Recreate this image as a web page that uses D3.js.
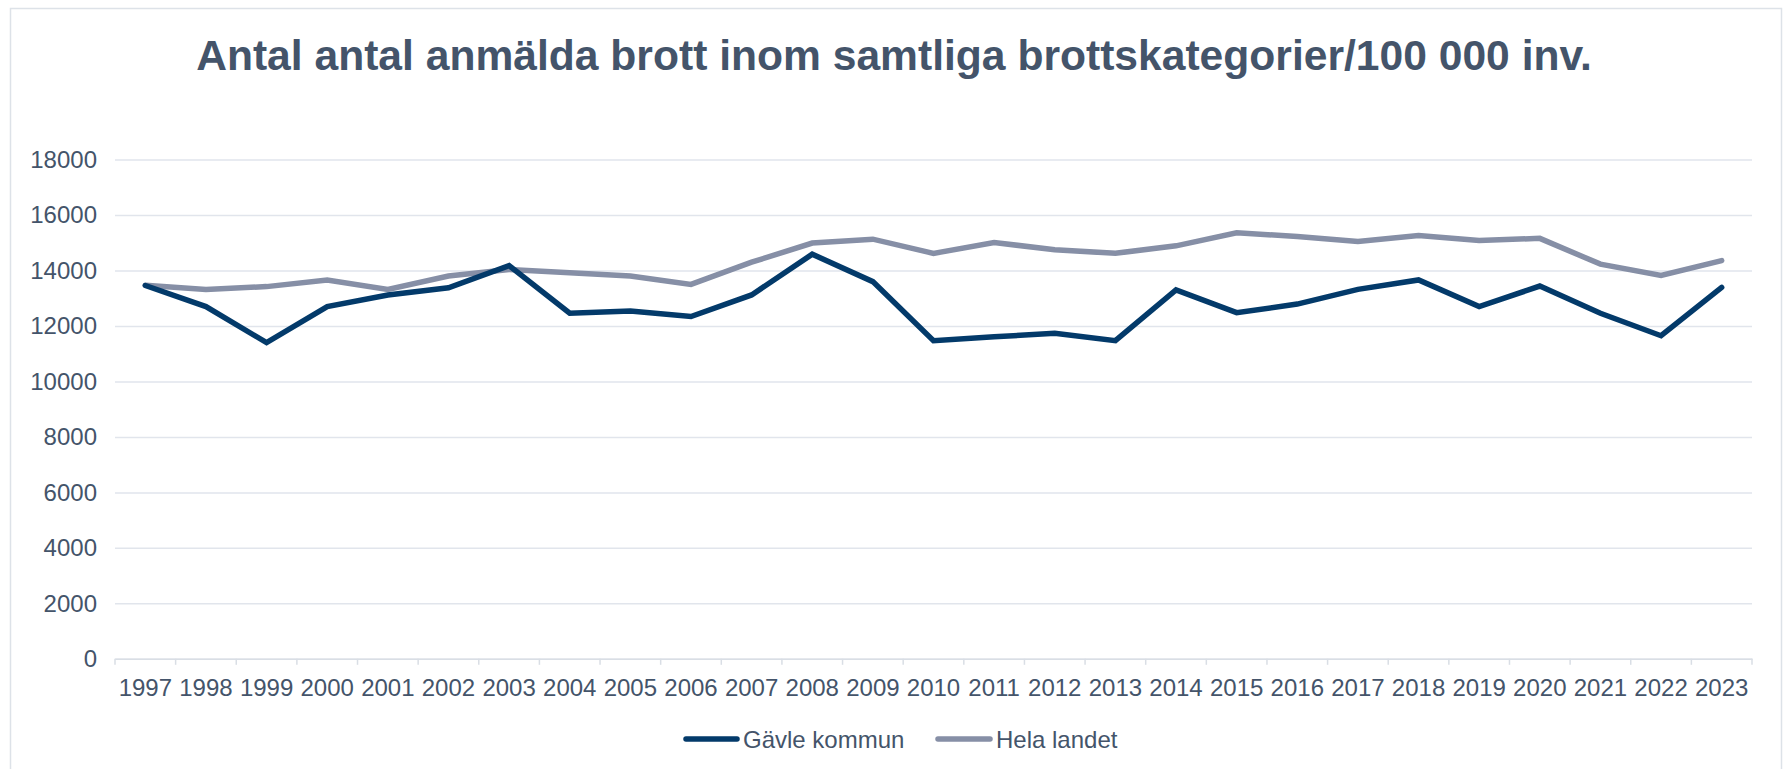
<!DOCTYPE html>
<html>
<head>
<meta charset="utf-8">
<script src="https://cdn.jsdelivr.net/npm/d3@7"></script>
<style>
  html, body { margin: 0; padding: 0; background: #ffffff; }
  svg { display: block; font-family: "Liberation Sans", Arial, sans-serif; }
</style>
</head>
<body>
<svg id="chart" width="1787" height="769"></svg>
<script>
const titleText = "Antal antal anmälda brott inom samtliga brottskategorier/100 000 inv.";
const years = ["1997","1998","1999","2000","2001","2002","2003","2004","2005","2006","2007","2008","2009","2010","2011","2012","2013","2014","2015","2016","2017","2018","2019","2020","2021","2022","2023"];
const gavleValues = [13460,12700,11400,12700,13120,13380,14180,12460,12540,12340,13120,14590,13600,11470,11610,11740,11470,13300,12480,12790,13320,13660,12700,13440,12460,11650,13390];
const helaValues  = [13470,13320,13420,13660,13320,13800,14040,13920,13800,13500,14300,14990,15130,14620,15010,14750,14620,14890,15360,15230,15050,15260,15080,15160,14230,13820,14360];
const yTicks = [0,2000,4000,6000,8000,10000,12000,14000,16000,18000];
const seriesNames = ["Gävle kommun","Hela landet"];
const seriesColors = ["#033a6a","#868fa6"];

const svg = d3.select("#chart");
const textColor = "#44546a";
const gridColor = "#e1e5ec";

// outer border
svg.append("rect")
  .attr("x", 10.5).attr("y", 8.5)
  .attr("width", 1771).attr("height", 800)
  .attr("fill", "none").attr("stroke", "#dde2e8").attr("stroke-width", 1.5);

// title
svg.append("text")
  .attr("x", 894).attr("y", 70)
  .attr("text-anchor", "middle")
  .attr("font-size", 42.6).attr("font-weight", "bold")
  .attr("fill", textColor)
  .text(titleText);

const plotLeft = 115, plotRight = 1752, plotTop = 159.6, plotBottom = 658.8;

const x = d3.scaleBand().domain(years).range([plotLeft, plotRight]).padding(0);
const y = d3.scaleLinear().domain([0, 18000]).range([plotBottom, plotTop]);

// gridlines
const grid = svg.append("g").attr("transform", `translate(${plotLeft},0)`)
  .call(d3.axisLeft(y).tickValues(yTicks).tickSize(-(plotRight - plotLeft)).tickFormat(""));
grid.select(".domain").remove();
grid.selectAll(".tick line").attr("stroke", gridColor).attr("stroke-width", 1.5);

// y labels
const yAxis = svg.append("g").attr("transform", `translate(${plotLeft},0)`)
  .call(d3.axisLeft(y).tickValues(yTicks).tickSize(0).tickPadding(18).tickFormat(d3.format("d")));
yAxis.select(".domain").remove();
yAxis.selectAll("text").attr("font-size", 24).attr("fill", textColor)
  .attr("font-family", "Liberation Sans, Arial, sans-serif");

// x axis
const xAxis = svg.append("g").attr("transform", `translate(0,${plotBottom})`)
  .call(d3.axisBottom(x).tickSize(0).tickPadding(20));
xAxis.select(".domain").attr("stroke", "#d9dee5").attr("stroke-width", 1.5);
xAxis.selectAll("text").attr("font-size", 24).attr("fill", textColor)
  .attr("font-family", "Liberation Sans, Arial, sans-serif");

// boundary tick marks
const bounds = years.map(yr => x(yr)).concat([x(years[years.length-1]) + x.bandwidth()]);
svg.append("g").selectAll("line").data(bounds).join("line")
  .attr("x1", d => d).attr("x2", d => d)
  .attr("y1", plotBottom).attr("y2", plotBottom + 6)
  .attr("stroke", "#d9dee5").attr("stroke-width", 1.5);

// lines
const line = d3.line()
  .x((d, i) => x(years[i]) + x.bandwidth() / 2)
  .y(d => y(d));

[[helaValues, 1], [gavleValues, 0]].forEach(([vals, idx]) => {
  svg.append("path")
    .datum(vals)
    .attr("d", line)
    .attr("fill", "none")
    .attr("stroke", seriesColors[idx])
    .attr("stroke-width", 5.5)
    .attr("stroke-linejoin", "miter")
    .attr("stroke-linecap", "round");
});

// legend
const legendItems = [
  { name: seriesNames[0], color: seriesColors[0], x1: 686, x2: 737, tx: 743 },
  { name: seriesNames[1], color: seriesColors[1], x1: 938, x2: 990, tx: 996 }
];
const ly = 739;
const lg = svg.append("g");
legendItems.forEach(it => {
  lg.append("line")
    .attr("x1", it.x1).attr("x2", it.x2)
    .attr("y1", ly).attr("y2", ly)
    .attr("stroke", it.color).attr("stroke-width", 5.5).attr("stroke-linecap", "round");
  lg.append("text")
    .attr("x", it.tx).attr("y", ly + 8.5)
    .attr("font-size", 24).attr("fill", textColor)
    .text(it.name);
});
</script>
</body>
</html>
